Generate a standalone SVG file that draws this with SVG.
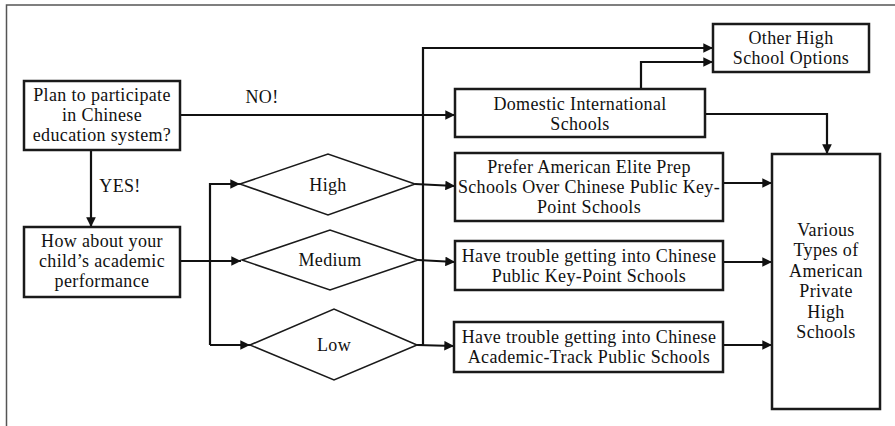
<svg xmlns="http://www.w3.org/2000/svg" width="895" height="426" viewBox="0 0 895 426">
<style>
text{font-family:"Liberation Serif","Times New Roman","DejaVu Serif",serif;font-size:18px;letter-spacing:0.35px;fill:#111;text-anchor:middle}
.box{fill:#fff;stroke:#1a1a1a;stroke-width:2.5}
.dia{fill:#fff;stroke:#1a1a1a;stroke-width:1.6}
.ln{fill:none;stroke:#111;stroke-width:2.2}
</style>
<defs>
<marker id="ah" viewBox="0 0 10 10" refX="10" refY="5" markerWidth="5" markerHeight="4.4" markerUnits="strokeWidth" orient="auto">
<path d="M0,0 L10,5 L0,10 z" fill="#111"/>
</marker>
</defs>
<rect x="0" y="0" width="895" height="426" fill="#fff"/>
<rect x="6.5" y="5" width="900" height="440" fill="none" stroke="#555" stroke-width="1.5"/>

<g id="connectors">
<path class="ln" d="M180,115 H455" marker-end="url(#ah)"/>
<path class="ln" d="M91,150 V227" marker-end="url(#ah)"/>
<path class="ln" d="M180,261 H241" marker-end="url(#ah)"/>
<path class="ln" d="M210,345 V184 H240" marker-end="url(#ah)"/>
<path class="ln" d="M210,345 H250" marker-end="url(#ah)"/>
<path class="ln" d="M417,345 H423 V48 H713" marker-end="url(#ah)"/>
<path class="ln" d="M415,184 L455,186" marker-end="url(#ah)"/>
<path class="ln" d="M418,260 L455,262" marker-end="url(#ah)"/>
<path class="ln" d="M417,345 L454,346" marker-end="url(#ah)"/>
<path class="ln" d="M641,89 V62 H713" marker-end="url(#ah)"/>
<path class="ln" d="M705,114 H827 V154" marker-end="url(#ah)"/>
<path class="ln" d="M723,183 H772" marker-end="url(#ah)"/>
<path class="ln" d="M723,262 H772" marker-end="url(#ah)"/>
<path class="ln" d="M723,345 H772" marker-end="url(#ah)"/>
<text x="262" y="103">NO!</text>
<text x="120" y="192">YES!</text>
</g>

<g id="plan">
<rect class="box" x="24" y="81" width="156" height="69"/>
<text x="102" y="101">Plan to participate</text>
<text x="102" y="121">in Chinese</text>
<text x="102" y="141">education system?</text>
</g>

<g id="howabout">
<rect class="box" x="24" y="227" width="156" height="70"/>
<text x="102" y="247">How about your</text>
<text x="102" y="267">child’s academic</text>
<text x="102" y="287">performance</text>
</g>

<g id="high">
<polygon class="dia" points="240,184 328,154 415,184 328,215"/>
<text x="328" y="191">High</text>
</g>

<g id="medium">
<polygon class="dia" points="242,260 330,230 418,260 330,290"/>
<text x="330" y="266">Medium</text>
</g>

<g id="low">
<polygon class="dia" points="250,345 334,309 417,345 334,380"/>
<text x="334" y="351">Low</text>
</g>

<g id="domestic">
<rect class="box" x="455" y="89" width="250" height="48"/>
<text x="580" y="110">Domestic International</text>
<text x="580" y="130">Schools</text>
</g>

<g id="other">
<rect class="box" x="713" y="24" width="156" height="48"/>
<text x="791" y="44">Other High</text>
<text x="791" y="64">School Options</text>
</g>

<g id="prefer">
<rect class="box" x="455" y="153" width="268" height="68"/>
<text x="589" y="173">Prefer American Elite Prep</text>
<text x="589" y="193">Schools Over Chinese Public Key-</text>
<text x="589" y="213">Point Schools</text>
</g>

<g id="keypoint">
<rect class="box" x="455" y="241" width="268" height="49"/>
<text x="589" y="262">Have trouble getting into Chinese</text>
<text x="589" y="282">Public Key-Point Schools</text>
</g>

<g id="academic">
<rect class="box" x="454" y="322" width="269" height="50"/>
<text x="589" y="343">Have trouble getting into Chinese</text>
<text x="589" y="363">Academic-Track Public Schools</text>
</g>

<g id="various">
<rect class="box" x="772" y="154" width="108" height="255"/>
<text x="826" y="236">Various</text>
<text x="826" y="256">Types of</text>
<text x="826" y="277">American</text>
<text x="826" y="297">Private</text>
<text x="826" y="318">High</text>
<text x="826" y="338">Schools</text>
</g>
</svg>
